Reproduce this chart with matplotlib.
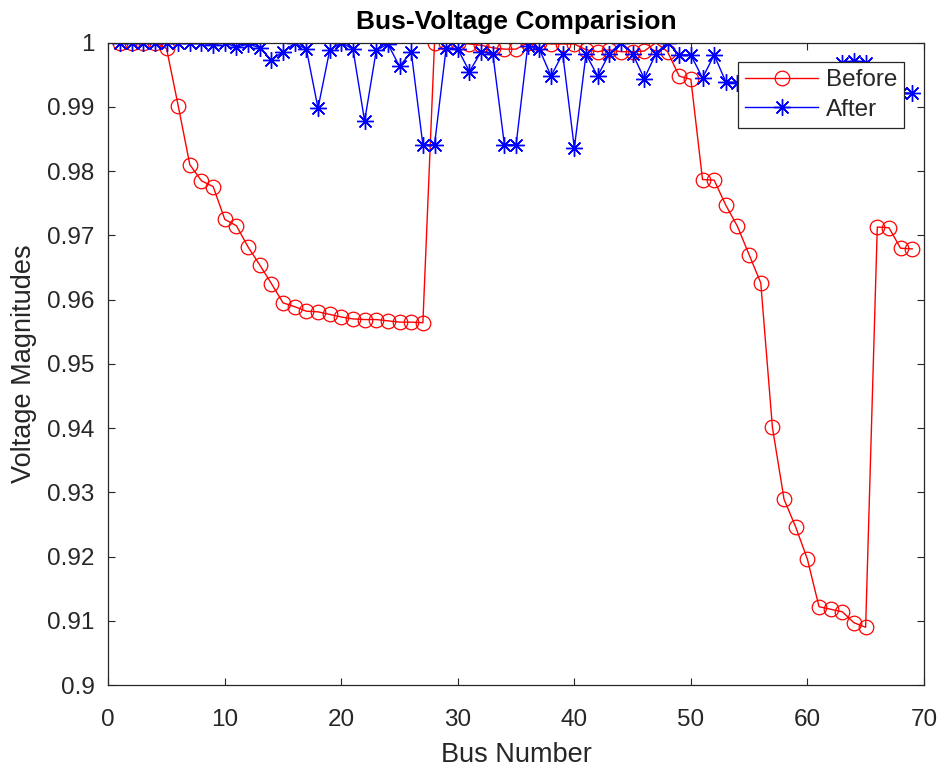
import matplotlib
matplotlib.use("Agg")
import matplotlib.pyplot as plt

# bus voltages (p.u.)
bus_numbers = list(range(1, 70))

before_voltages = [
    1.0000, 1.0000, 1.0000, 1.0000, 0.9991, 0.9902, 0.9810, 0.9785, 0.9776, 0.9725,
    0.9715, 0.9682, 0.9654, 0.9625, 0.9595, 0.9589, 0.9582, 0.9581, 0.9577, 0.9573,
    0.9570, 0.9569, 0.9569, 0.9567, 0.9565, 0.9565, 0.9564, 1.0000, 1.0000, 1.0000,
    0.9998, 0.9996, 0.9992, 0.9990, 0.9990, 1.0000, 1.0000, 0.9998, 0.9998, 0.9998,
    0.9989, 0.9986, 0.9989, 0.9986, 0.9986, 0.9987, 1.0000, 0.9986, 0.9948, 0.9943,
    0.9787, 0.9786, 0.9747, 0.9714, 0.9670, 0.9626, 0.9401, 0.9289, 0.9246, 0.9196,
    0.9122, 0.9118, 0.9114, 0.9097, 0.9090, 0.9713, 0.9712, 0.9680, 0.9679,
]

after_voltages = [
    1.0000, 1.0000, 1.0000, 1.0000, 1.0000, 1.0000, 1.0000, 0.9999, 0.9997, 1.0000,
    0.9993, 0.9998, 0.9992, 0.9973, 0.9986, 0.9999, 0.9990, 0.9898, 0.9988, 1.0000,
    0.9990, 0.9878, 0.9988, 0.9998, 0.9963, 0.9986, 0.9841, 0.9841, 0.9992, 0.9990,
    0.9955, 0.9986, 0.9983, 0.9841, 0.9841, 0.9995, 0.9990, 0.9948, 0.9983, 0.9836,
    0.9982, 0.9948, 0.9983, 1.0000, 0.9983, 0.9944, 0.9983, 1.0000, 0.9981, 0.9981,
    0.9945, 0.9981, 0.9939, 0.9938, 0.9937, 0.9936, 0.9935, 0.9935, 0.9934, 0.9934,
    0.9933, 0.9933, 0.9968, 0.9972, 0.9969, 0.9925, 0.9923, 0.9922, 0.9921,
]

x_ticks = [0, 10, 20, 30, 40, 50, 60, 70]
y_ticks = [0.90, 0.91, 0.92, 0.93, 0.94, 0.95, 0.96, 0.97, 0.98, 0.99, 1.00]
y_tick_labels = ["0.9", "0.91", "0.92", "0.93", "0.94", "0.95", "0.96", "0.97", "0.98", "0.99", "1"]

plt.rcParams["font.family"] = ["Liberation Sans", "DejaVu Sans"]
axis_color = "#262626"

fig = plt.figure(figsize=(9.44, 7.68), dpi=100, facecolor="white")
ax = fig.add_axes([0.1147, 0.108, 0.864, 0.8364])

ax.plot(bus_numbers, before_voltages, color="#ff0000", linewidth=1.0,
        marker="o", markersize=10.5, markerfacecolor="none",
        markeredgecolor="#ff0000", markeredgewidth=0.9, label="Before")
ax.plot(bus_numbers, after_voltages, color="#0000ff", linewidth=1.0,
        marker=(8, 2, 0), markersize=12, markeredgecolor="#0000ff",
        markeredgewidth=1.0, label="After")

ax.set_xlim(0, 70)
ax.set_ylim(0.9, 1.0)
ax.set_xticks(x_ticks)
ax.set_yticks(y_ticks)
ax.set_yticklabels(y_tick_labels)

ax.tick_params(direction="in", length=5, width=0.8, colors=axis_color,
               labelsize=17.5, top=True, right=True)
ax.tick_params(axis="x", pad=17)
ax.tick_params(axis="y", pad=10)
for spine in ax.spines.values():
    spine.set_color(axis_color)
    spine.set_linewidth(0.9)

ax.set_xlabel("Bus Number", fontsize=19.5, color=axis_color, labelpad=8)
ax.set_ylabel("Voltage Magnitudes", fontsize=19.5, color=axis_color, labelpad=7)
ax.set_title("Bus-Voltage Comparision", fontsize=19, weight="bold", color="black", pad=10)

leg = ax.legend(loc="upper right", bbox_to_anchor=(0.976, 0.97), fontsize=17.5,
                handlelength=3.0, handletextpad=0.3, borderpad=0.3,
                labelspacing=0.3, borderaxespad=0, fancybox=False,
                framealpha=1, edgecolor=axis_color)
leg.get_frame().set_linewidth(0.9)
for t in leg.get_texts():
    t.set_color(axis_color)

fig.savefig("out.png", dpi=100, facecolor="white")
